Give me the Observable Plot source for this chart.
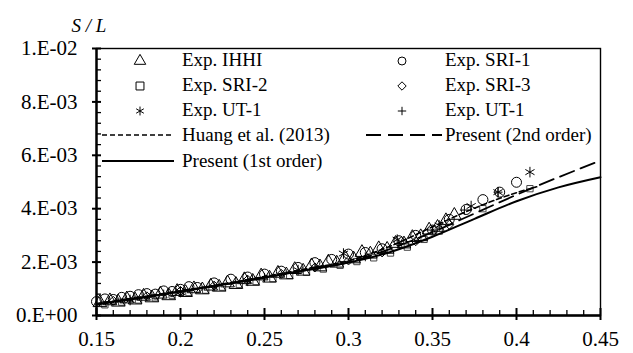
<!DOCTYPE html>
<html><head><meta charset="utf-8">
<script src="https://cdn.jsdelivr.net/npm/d3@7"></script>
<script src="https://cdn.jsdelivr.net/npm/@observablehq/plot@0.6"></script>
<style>
body{margin:0;background:#fff;}
#chart{position:relative;width:633px;height:353px;}
#chart svg, #chart svg text { font-family: "Liberation Serif", "DejaVu Serif", serif !important; }
</style>
</head><body><div id="chart"></div>
<script>
// values of S/L are in units of 1e-3
const xTicks = [0.15, 0.2, 0.25, 0.3, 0.35, 0.4, 0.45];
const xMinor = [0.16,0.17,0.18,0.19,0.21,0.22,0.23,0.24,0.26,0.27,0.28,0.29,0.31,0.32,0.33,0.34,0.36,0.37,0.38,0.39,0.41,0.42,0.43,0.44];
const yTicks = [0, 2, 4, 6, 8, 10];
const yMinor = [0.4,0.8,1.2,1.6,2.4,2.8,3.2,3.6,4.4,4.8,5.2,5.6,6.4,6.8,7.2,7.6,8.4,8.8,9.2,9.6];

const xIHHI = [0.152,0.158,0.163,0.168,0.173,0.178,0.183,0.188,0.193,0.198,0.203,0.208,0.213,0.218,0.223,0.228,0.233,0.238,0.243,0.248,0.253,0.258,0.263,0.268,0.273,0.278,0.283,0.288,0.293,0.298,0.303,0.308,0.313,0.318,0.323,0.328,0.333,0.338,0.343,0.348,0.353,0.358,0.363];
const yIHHI = [0.48,0.55,0.50,0.62,0.58,0.72,0.66,0.80,0.74,0.90,0.86,1.00,0.96,1.10,1.06,1.22,1.16,1.34,1.28,1.48,1.40,1.58,1.52,1.72,1.66,1.86,1.82,2.00,1.96,2.16,2.12,2.36,2.30,2.50,2.48,2.70,2.68,2.92,2.95,3.20,3.30,3.55,3.75];
const xSRI1 = [0.150,0.155,0.160,0.165,0.170,0.175,0.180,0.185,0.190,0.195,0.200,0.205,0.210,0.220,0.230,0.240,0.250,0.260,0.270,0.280,0.290,0.300,0.310,0.320,0.330,0.340,0.350,0.360,0.370,0.380,0.390,0.400];
const ySRI1 = [0.52,0.62,0.60,0.68,0.72,0.78,0.82,0.80,0.92,0.90,0.98,1.08,1.05,1.22,1.36,1.44,1.55,1.66,1.80,1.98,2.10,2.30,2.36,2.50,2.80,3.00,3.20,3.60,3.97,4.34,4.62,4.99];
const xSRI2 = [0.155,0.165,0.175,0.185,0.195,0.205,0.215,0.225,0.235,0.245,0.255,0.265,0.275,0.285,0.295,0.305,0.315,0.325,0.335,0.345,0.354,0.38,0.408];
const ySRI2 = [0.40,0.50,0.58,0.66,0.76,0.86,0.95,1.06,1.16,1.27,1.38,1.50,1.62,1.74,1.88,2.02,2.16,2.34,2.56,2.85,3.16,4.0,4.75];
const xSRI3 = [0.16,0.18,0.20,0.22,0.24,0.26,0.28,0.30,0.32,0.34,0.36];
const ySRI3 = [0.55,0.72,0.92,1.12,1.34,1.56,1.80,2.06,2.36,2.78,3.40];
const xUTstar = [0.17,0.2,0.24,0.27,0.297,0.329,0.354,0.373,0.389,0.408];
const yUTstar = [0.58,0.88,1.3,1.7,2.32,2.84,3.37,4.1,4.62,5.37];
const xUTplus = [0.19,0.22,0.25,0.28,0.31,0.33,0.35,0.369,0.389];
const yUTplus = [0.8,1.08,1.42,1.8,2.2,2.7,3.2,3.95,4.62];

const xModel = [0.15,0.175,0.2,0.225,0.25,0.275,0.3,0.325,0.35,0.375,0.4,0.425,0.45];
const yFirst = [0.42,0.65,0.9,1.15,1.42,1.7,1.98,2.38,2.95,3.62,4.28,4.8,5.18];
const ySecond = [0.42,0.65,0.9,1.15,1.42,1.7,1.99,2.5,3.12,3.82,4.52,5.18,5.8];
const xHuang = [0.15,0.175,0.2,0.225,0.25,0.275,0.3,0.325,0.35,0.375,0.4,0.412];
const yHuang = [0.45,0.68,0.93,1.18,1.46,1.75,2.05,2.6,3.32,4.02,4.6,4.82];

const zip = (xs, ys) => xs.map((x, i) => ({x, y: ys[i]}));

function fmtY(v) {
  if (v === 0) return "0.E+00";
  const val = v * 1e-3;
  const e = Math.floor(Math.log10(val) + 1e-9);
  const m = Math.round(val / Math.pow(10, e));
  return `${m}.E${e < 0 ? "-" : "+"}${String(Math.abs(e)).padStart(2, "0")}`;
}

const FONT = '"Liberation Serif", "DejaVu Serif", serif';
const W = 633, H = 353, mL = 96, mR = 33, mT = 48, mB = 38;
const innerW = W - mL - mR, innerH = H - mT - mB;

const dotOpts = {x: "x", y: "y", stroke: "black", fill: "none", strokeWidth: 1};

const chart = Plot.plot({
  width: W, height: H,
  marginLeft: mL, marginRight: mR, marginTop: mT, marginBottom: mB,
  style: {fontFamily: FONT, fontSize: "21px", color: "black", background: "white"},
  x: {domain: [0.15, 0.45], ticks: xTicks, tickFormat: d => String(d), tickSize: 0, tickPadding: 16, label: null},
  y: {domain: [0, 10], ticks: yTicks, tickFormat: fmtY, tickSize: 0, tickPadding: 19, label: null},
  marks: [
    Plot.frame({stroke: "black", strokeWidth: 1.4}),
    Plot.tickY(yMinor, {insetRight: innerW - 5, strokeWidth: 1.3}),
    Plot.tickY(yTicks, {insetLeft: -4, insetRight: innerW - 5, strokeWidth: 2}),
    Plot.tickX(xMinor, {insetTop: innerH - 5, strokeWidth: 1.3}),
    Plot.tickX(xTicks, {insetTop: innerH - 7, insetBottom: -5, strokeWidth: 2}),
    Plot.ruleX([0.15], {strokeWidth: 2.4}),
    Plot.ruleY([0], {strokeWidth: 2.4}),
    Plot.dot(zip(xSRI2, ySRI2), {...dotOpts, symbol: "square2", r: 4, stroke: "#444"}),
    Plot.dot(zip(xSRI3, ySRI3), {...dotOpts, symbol: "diamond2", r: 4}),
    Plot.dot(zip(xIHHI, yIHHI), {...dotOpts, symbol: "triangle2", r: 6.5}),
    Plot.dot(zip(xSRI1, ySRI1), {...dotOpts, symbol: "circle", r: 5}),
    Plot.dot(zip(xUTstar, yUTstar), {...dotOpts, symbol: "asterisk", r: 5}),
    Plot.dot(zip(xUTplus, yUTplus), {...dotOpts, symbol: "plus", r: 3}),
    Plot.line(zip(xHuang, yHuang), {x: "x", y: "y", stroke: "black", strokeWidth: 1.6, strokeDasharray: "5,3", curve: "monotone-x"}),
    Plot.line(zip(xModel, ySecond), {x: "x", y: "y", stroke: "black", strokeWidth: 1.8, strokeDasharray: "15,7", curve: "monotone-x"}),
    Plot.line(zip(xModel, yFirst), {x: "x", y: "y", stroke: "black", strokeWidth: 2, curve: "monotone-x"}),
    Plot.text(["S / L"], {frameAnchor: "top-left", dx: -25, dy: -30, fontStyle: "italic", fontSize: 19})
  ]
});
document.getElementById("chart").appendChild(chart);

// legend drawn inside the plot's SVG
const svg = d3.select(chart);
const leg = svg.append("g").attr("font-family", FONT).attr("font-size", 19).attr("fill", "black").attr("text-anchor", "start");
const symbolEntries = [
  {label: "Exp. IHHI", type: d3.symbolTriangle2, size: 95, col: 0, row: 0},
  {label: "Exp. SRI-1", type: d3.symbolCircle, size: 50, col: 1, row: 0},
  {label: "Exp. SRI-2", type: d3.symbolSquare2, size: 80, col: 0, row: 1},
  {label: "Exp. SRI-3", type: d3.symbolDiamond2, size: 45, col: 1, row: 1},
  {label: "Exp. UT-1", type: d3.symbolAsterisk, size: 55, col: 0, row: 2},
  {label: "Exp. UT-1", type: d3.symbolPlus, size: 25, col: 1, row: 2}
];
const lineEntries = [
  {label: "Huang et al. (2013)", dash: "5,3", width: 1.6, col: 0, row: 3},
  {label: "Present (2nd order)", dash: "15,7", width: 1.8, col: 1, row: 3},
  {label: "Present (1st order)", dash: null, width: 2, col: 0, row: 4}
];
const rowBase = [66, 91, 116, 141, 167];
const colSym = [140, 402];
const colText = [182, 445];
const colLine = [[102, 174], [366, 442]];
symbolEntries.forEach(e => {
  leg.append("path").attr("d", d3.symbol(e.type, e.size)()).attr("transform", `translate(${colSym[e.col]},${rowBase[e.row] - 5})`)
    .attr("fill", "none").attr("stroke", "black").attr("stroke-width", 1);
  leg.append("text").attr("x", colText[e.col]).attr("y", rowBase[e.row]).text(e.label);
});
lineEntries.forEach(e => {
  const [a, b] = colLine[e.col];
  const yy = rowBase[e.row] - 6;
  leg.append("line").attr("x1", a).attr("x2", b).attr("y1", yy).attr("y2", yy)
    .attr("stroke", "black").attr("stroke-width", e.width).attr("stroke-dasharray", e.dash);
  leg.append("text").attr("x", colText[e.col]).attr("y", rowBase[e.row]).text(e.label);
});
</script></body></html>
